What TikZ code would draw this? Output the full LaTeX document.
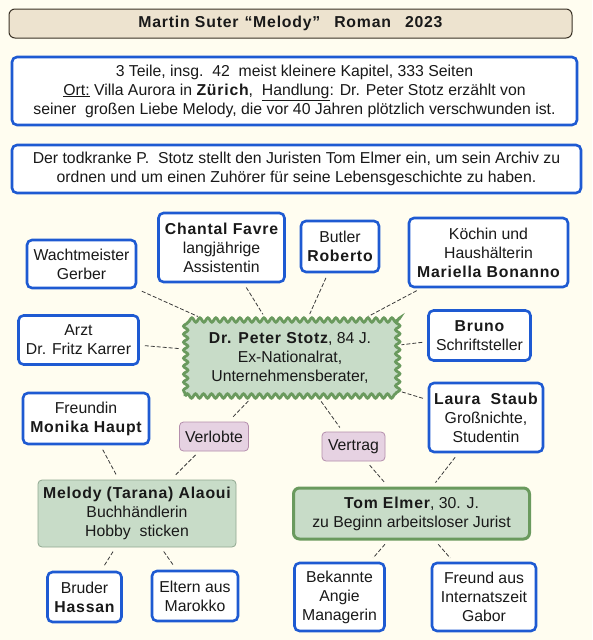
\documentclass[tikz,border=0pt]{standalone}
\usepackage{fontspec}
\setmainfont{Liberation Sans}
\newfontfamily\boldls[LetterSpace=5]{Liberation Sans Bold}
\newcommand\bx[1]{{\boldls #1}}
\usetikzlibrary{decorations.pathmorphing}
\definecolor{bg}{HTML}{FFFDF0}
\definecolor{titlefill}{HTML}{EDE3CF}
\definecolor{titledraw}{HTML}{3A3226}
\definecolor{blueb}{HTML}{1E5AD2}
\definecolor{greenfill}{HTML}{C8DCC8}
\definecolor{greendraw}{HTML}{6A9A5E}
\definecolor{melodydraw}{HTML}{90A890}
\definecolor{lavfill}{HTML}{E6D2E2}
\definecolor{lavdraw}{HTML}{B48EAC}
\definecolor{linec}{HTML}{3A3A3A}
\tikzset{
  txt/.style={font=\fontsize{15.8}{19}\selectfont, align=center, inner sep=0pt, text=black!90},
  bluebox/.style={txt, draw=blueb, line width=2.6pt, rounded corners=5pt, fill=white},
  labelbox/.style={txt, draw=lavdraw, line width=0.8pt, rounded corners=4pt, fill=lavfill},
  conn/.style={draw=linec, line width=0.8pt, dash pattern=on 4pt off 2pt, shorten <=5pt, shorten >=5pt},
}
\begin{document}
\begin{tikzpicture}[x=1pt,y=-1pt]
\fill[bg] (0,0) rectangle (592,640);
\useasboundingbox (0,0) rectangle (592,640);

\node[txt, draw=titledraw, line width=1pt, fill=titlefill, rounded corners=6pt, minimum width=563pt, minimum height=29pt] (title) at (290.5,23.5)
  {\bx{Martin Suter\hspace{6pt}“Melody”\hspace{14pt}Roman\hspace{14pt}2023}};

\node[bluebox, minimum width=565pt, minimum height=68pt] (info) at (294.5,91)
  {3 Teile, insg.~~42~~meist kleinere Kapitel, 333 Seiten\\
   \underline{Ort:} Villa Aurora in \bx{Zürich},~~\underline{Handlung}: Dr. Peter Stotz erzählt von\\
   seiner~~großen Liebe Melody, die vor 40 Jahren plötzlich verschwunden ist.};

\node[bluebox, minimum width=569pt, minimum height=48pt] (plot) at (296.5,169)
  {Der todkranke P.~~Stotz stellt den Juristen Tom Elmer ein, um sein Archiv zu\\
   ordnen und um einen Zuhörer für seine Lebensgeschichte zu haben.};

\node[txt, draw=greendraw, fill=greenfill, line width=2.8pt, decorate, decoration={snake, segment length=8pt, amplitude=2.2pt}, minimum width=210pt, minimum height=76pt] (stotz) at (290,358)
  {\bx{Dr. Peter Stotz}, 84 J.\\ Ex-Nationalrat,\\ Unternehmensberater,};

\node[bluebox, minimum width=109pt, minimum height=48pt] (gerber) at (81.5,264) {Wachtmeister\\ Gerber};
\node[bluebox, minimum width=126pt, minimum height=69pt] (chantal) at (221.5,247.5) {\bx{Chantal Favre}\\ langjährige\\ Assistentin};
\node[bluebox, minimum width=78pt, minimum height=51pt] (butler) at (340,246.5) {Butler\\ \bx{Roberto}};
\node[bluebox, minimum width=159pt, minimum height=69pt] (koechin) at (488.5,252.5) {Köchin und\\ Haushälterin\\ \bx{Mariella Bonanno}};
\node[bluebox, minimum width=120pt, minimum height=49pt] (arzt) at (78.5,340) {Arzt\\ Dr. Fritz Karrer};
\node[bluebox, minimum width=102pt, minimum height=50pt] (bruno) at (479.5,335.5) {\bx{Bruno}\\ Schriftsteller};
\node[bluebox, minimum width=114pt, minimum height=69pt] (laura) at (486,417.5) {\bx{Laura~~Staub}\\ Großnichte,\\ Studentin};
\node[bluebox, minimum width=126pt, minimum height=51pt] (monika) at (86,418.5) {Freundin\\ \bx{Monika Haupt}};

\node[labelbox, minimum width=69pt, minimum height=29pt] (verlobte) at (214,436.5) {Verlobte};
\node[labelbox, minimum width=63pt, minimum height=29pt] (vertrag) at (353.5,446.5) {Vertrag};

\node[txt, draw=melodydraw, fill=greenfill, line width=0.8pt, rounded corners=4pt, minimum width=198pt, minimum height=67pt] (melody) at (137,513.5)
  {\bx{Melody (Tarana) Alaoui}\\ Buchhändlerin\\ Hobby~~sticken};
\node[txt, draw=greendraw, fill=greenfill, line width=3pt, rounded corners=6pt, minimum width=236pt, minimum height=51pt] (tom) at (411.5,513.5)
  {\bx{Tom Elmer}, 30. J.\\ zu Beginn arbeitsloser Jurist};

\node[bluebox, minimum width=74pt, minimum height=50pt] (hassan) at (84.5,597) {Bruder\\ \bx{Hassan}};
\node[bluebox, minimum width=86pt, minimum height=50pt] (eltern) at (195,596) {Eltern aus\\ Marokko};
\node[bluebox, minimum width=90pt, minimum height=68pt] (angie) at (339.5,597) {Bekannte\\ Angie\\ Managerin};
\node[bluebox, minimum width=104pt, minimum height=68pt] (gabor) at (484,597) {Freund aus\\ Internatszeit\\ Gabor};

\draw[conn] (gerber) -- (stotz);
\draw[conn] (chantal) -- (stotz);
\draw[conn] (arzt) -- (stotz);
\draw[conn] (butler) -- (stotz);
\draw[conn] (koechin) -- (stotz);
\draw[conn] (bruno) -- (stotz);
\draw[conn] (laura) -- (stotz);
\draw[conn] (stotz) -- (vertrag);
\draw[conn] (vertrag) -- (tom);
\draw[conn] (laura) -- (tom);
\draw[conn] (tom) -- (angie);
\draw[conn] (tom) -- (gabor);
\draw[conn] (stotz) -- (verlobte);
\draw[conn] (verlobte) -- (melody);
\draw[conn] (monika) -- (melody);
\draw[conn] (melody) -- (hassan);
\draw[conn] (melody) -- (eltern);
\end{tikzpicture}
\end{document}
